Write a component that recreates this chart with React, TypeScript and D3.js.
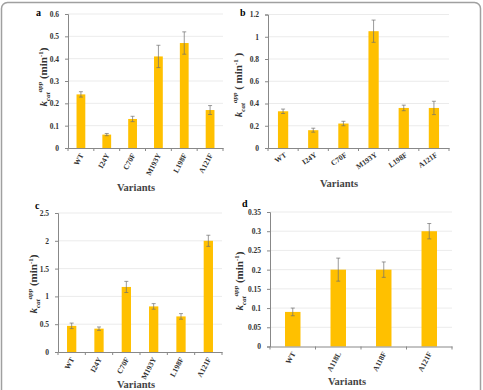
import React, { useRef, useEffect } from 'react';
import * as d3 from 'd3';

// panel a
const variantsA = ['WT', 'I24Y', 'C70F', 'M193Y', 'L198F', 'A121F'];
const valuesA = [0.24, 0.06, 0.13, 0.41, 0.47, 0.17];
const errorsA = [0.012, 0.005, 0.012, 0.05, 0.05, 0.02];

// panel b
const variantsB = ['WT', 'I24Y', 'C70F', 'M193Y', 'L198F', 'A121F'];
const valuesB = [0.33, 0.16, 0.22, 1.05, 0.36, 0.36];
const errorsB = [0.02, 0.018, 0.02, 0.1, 0.025, 0.06];

// panel c
const variantsC = ['WT', 'I24Y', 'C70F', 'M193Y', 'L198F', 'A121F'];
const valuesC = [0.47, 0.42, 1.17, 0.82, 0.64, 2.0];
const errorsC = [0.05, 0.03, 0.1, 0.05, 0.05, 0.1];

// panel d
const variantsD = ['WT', 'A118L', 'A118F', 'A121F'];
const valuesD = [0.09, 0.2, 0.2, 0.3];
const errorsD = [0.01, 0.03, 0.02, 0.02];

const ticksA = [0, 0.1, 0.2, 0.3, 0.4, 0.5, 0.6];
const ticksB = [0, 0.2, 0.4, 0.6, 0.8, 1, 1.2];
const ticksC = [0, 0.5, 1, 1.5, 2, 2.5];
const ticksD = [0, 0.05, 0.1, 0.15, 0.2, 0.25, 0.3, 0.35];

const BAR = '#FFC000';
const FONT = '"Liberation Serif", "Times New Roman", serif';

const panels = [
  {
    letter: 'a', cats: variantsA, vals: valuesA, errs: errorsA, ticks: ticksA,
    left: 68, right: 223, top: 14, bottom: 148,
    rot: -62, letterPos: [36, 16], yLabel: [47, 77], xTitle: [136, 191], paren: false,
  },
  {
    letter: 'b', cats: variantsB, vals: valuesB, errs: errorsB, ticks: ticksB,
    left: 268, right: 449, top: 14.5, bottom: 148,
    rot: -35, letterPos: [240, 16], yLabel: [242, 85], xTitle: [339, 187], paren: true,
  },
  {
    letter: 'c', cats: variantsC, vals: valuesC, errs: errorsC, ticks: ticksC,
    left: 58, right: 222, top: 213, bottom: 352,
    rot: -62, letterPos: [35, 209], yLabel: [37, 284], xTitle: [136, 388], paren: false,
  },
  {
    letter: 'd', cats: variantsD, vals: valuesD, errs: errorsD, ticks: ticksD,
    left: 270, right: 452, top: 212, bottom: 346.5,
    rot: -62, letterPos: [242, 207], yLabel: [243, 281], xTitle: [347, 385], paren: false,
  },
];

const App = () => {
  const ref = useRef(null);

  useEffect(() => {
    const svg = d3.select(ref.current);
    svg.selectAll('*').remove();

    // outer frame
    svg.append('rect')
      .attr('x', 1.5).attr('y', 2.5)
      .attr('width', 479).attr('height', 420)
      .attr('rx', 6)
      .attr('fill', 'white')
      .attr('stroke', '#a0a0a0')
      .attr('stroke-width', 1.5);

    panels.forEach(p => {
      const g = svg.append('g');
      const x = d3.scaleBand()
        .domain(p.cats)
        .range([p.left, p.right])
        .paddingInner(0.66)
        .paddingOuter(0.33);
      const y = d3.scaleLinear()
        .domain([0, p.ticks[p.ticks.length - 1]])
        .range([p.bottom, p.top]);

      // gridlines
      g.append('g')
        .selectAll('line')
        .data(p.ticks.slice(1))
        .enter()
        .append('line')
        .attr('x1', p.left).attr('x2', p.right)
        .attr('y1', d => y(d)).attr('y2', d => y(d))
        .attr('stroke', '#e6e6e6')
        .attr('stroke-width', 0.8);

      // bars
      g.append('g')
        .selectAll('rect')
        .data(p.cats)
        .enter()
        .append('rect')
        .attr('x', d => x(d))
        .attr('y', (d, i) => y(p.vals[i]))
        .attr('width', x.bandwidth())
        .attr('height', (d, i) => p.bottom - y(p.vals[i]))
        .attr('fill', BAR);

      // error bars
      const eb = g.append('g').attr('stroke', '#707070').attr('stroke-width', 0.7);
      p.cats.forEach((c, i) => {
        const cx = x(c) + x.bandwidth() / 2;
        const lo = y(p.vals[i] - p.errs[i]);
        const hi = y(p.vals[i] + p.errs[i]);
        eb.append('line').attr('x1', cx).attr('x2', cx).attr('y1', lo).attr('y2', hi);
        eb.append('line').attr('x1', cx - 2).attr('x2', cx + 2).attr('y1', lo).attr('y2', lo);
        eb.append('line').attr('x1', cx - 2).attr('x2', cx + 2).attr('y1', hi).attr('y2', hi);
      });

      // y axis
      const yAxis = g.append('g')
        .attr('transform', `translate(${p.left},0)`)
        .call(d3.axisLeft(y).tickValues(p.ticks).tickSize(3).tickPadding(6).tickFormat(d3.format('')));
      yAxis.select('.domain').attr('stroke', '#888');
      yAxis.selectAll('.tick line').attr('stroke', '#888');
      yAxis.selectAll('text')
        .attr('font-family', FONT)
        .attr('font-weight', 'bold')
        .attr('font-size', 7.5)
        .attr('fill', '#333');

      // x axis
      const xAxis = g.append('g')
        .attr('transform', `translate(0,${p.bottom})`)
        .call(d3.axisBottom(x).tickSize(0).tickPadding(0));
      xAxis.select('.domain').attr('stroke', '#888');
      xAxis.selectAll('.tick text')
        .attr('font-family', FONT)
        .attr('font-weight', 'bold')
        .attr('font-size', 7.5)
        .attr('fill', '#333')
        .attr('text-anchor', 'end')
        .attr('dy', null)
        .attr('y', 0)
        .attr('transform', p.rot < -45 ? `translate(3,7) rotate(${p.rot})` : `translate(4,8) rotate(${p.rot})`);

      // category separator ticks
      const step = x.step();
      g.append('g')
        .selectAll('line')
        .data(d3.range(p.cats.length + 1))
        .enter()
        .append('line')
        .attr('x1', i => p.left + i * step)
        .attr('x2', i => p.left + i * step)
        .attr('y1', p.bottom)
        .attr('y2', p.bottom + 3)
        .attr('stroke', '#888');

      // panel letter
      g.append('text')
        .attr('x', p.letterPos[0]).attr('y', p.letterPos[1])
        .attr('font-family', FONT)
        .attr('font-weight', 'bold')
        .attr('font-size', 10)
        .text(p.letter);

      // x title
      g.append('text')
        .attr('x', p.xTitle[0]).attr('y', p.xTitle[1])
        .attr('text-anchor', 'middle')
        .attr('font-family', FONT)
        .attr('font-weight', 'bold')
        .attr('font-size', 10.5)
        .attr('fill', '#444')
        .text('Variants');

      // y title
      const yt = g.append('text')
        .attr('transform', `translate(${p.yLabel[0]},${p.yLabel[1]}) rotate(-90)`)
        .attr('text-anchor', 'middle')
        .attr('font-family', FONT)
        .attr('font-weight', 'bold')
        .attr('font-size', 11)
        .attr('fill', '#333');
      yt.append('tspan').attr('font-style', 'italic').text('k');
      yt.append('tspan').attr('font-style', 'italic').attr('font-size', 7).attr('dy', 2.5).text('cat');
      yt.append('tspan').attr('font-style', 'italic').attr('font-size', 7).attr('dy', -7.5).text('app');
      yt.append('tspan').attr('dy', 5).text(p.paren ? ' ( min' : ' (min');
      yt.append('tspan').attr('font-size', 7).attr('dy', -4).text('-1');
      yt.append('tspan').attr('dy', 4).text(p.paren ? ' )' : ')');
    });
  }, []);

  return (
    <svg
      ref={ref}
      width={483}
      height={390}
      style={{ position: 'absolute', left: 0, top: 0, background: 'white' }}
    />
  );
};

export default App;
